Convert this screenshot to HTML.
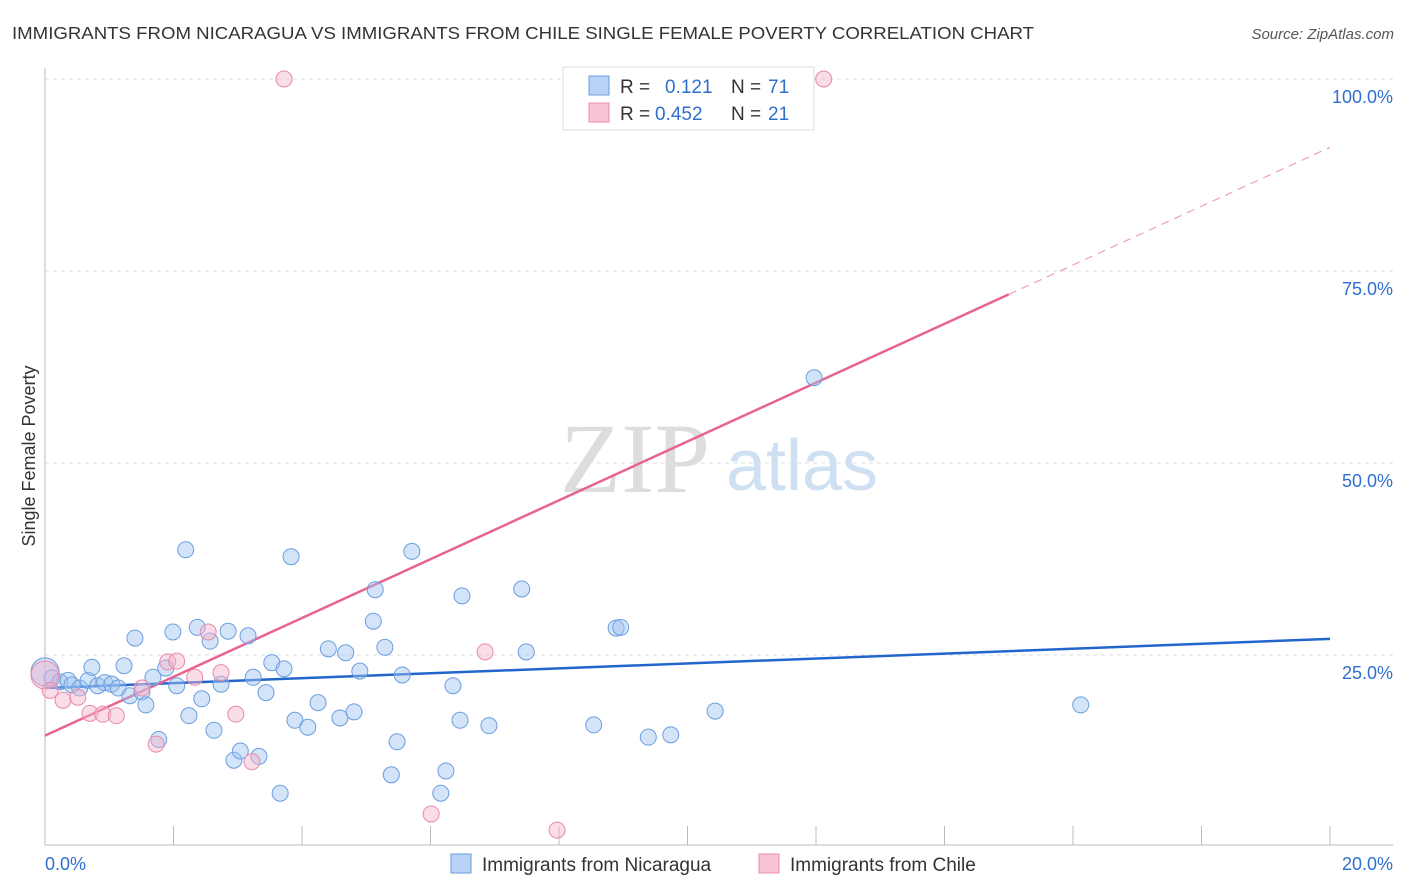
<!DOCTYPE html>
<html><head><meta charset="utf-8">
<style>
body{margin:0;background:#fff;font-family:"Liberation Sans",sans-serif;}
#wrap{position:relative;width:1406px;height:892px;overflow:hidden;}
</style></head>
<body>
<div id="wrap">
<svg id="chart" width="1406" height="892" xmlns="http://www.w3.org/2000/svg">
<text x="12" y="39" font-size="17.5" fill="#333" textLength="1022" lengthAdjust="spacingAndGlyphs">IMMIGRANTS FROM NICARAGUA VS IMMIGRANTS FROM CHILE SINGLE FEMALE POVERTY CORRELATION CHART</text>
<text x="1394" y="39" font-size="15" fill="#555" font-style="italic" text-anchor="end">Source: ZipAtlas.com</text>
<text x="35" y="456" font-size="18" fill="#333" text-anchor="middle" transform="rotate(-90 35 456)">Single Female Poverty</text>
<g>
<text x="635" y="492" font-size="100" fill="#ddd" font-family="Liberation Serif" text-anchor="middle">ZIP</text>
<text x="802" y="490" font-size="72" fill="#cfe0f3" text-anchor="middle">atlas</text>
</g>
<g id="grid"></g>
<g id="lines"></g>
<g id="pts"></g>
<g>
<rect x="563" y="67" width="251" height="63" fill="#fff" stroke="#ddd"/>
<rect x="589" y="76" width="20" height="19" fill="#b8d3f5" stroke="#6b9ee0"/>
<rect x="589" y="103" width="20" height="19" fill="#f8c5d5" stroke="#e88aa8"/>
<text x="620" y="93" font-size="19" fill="#333">R = </text><text x="665" y="93" font-size="19" fill="#2f6fd0">0.121</text>
<text x="731" y="93" font-size="19" fill="#333">N = </text><text x="768" y="93" font-size="19" fill="#2f6fd0">71</text>
<text x="620" y="120" font-size="19" fill="#333">R = </text><text x="655" y="120" font-size="19" fill="#2f6fd0">0.452</text>
<text x="731" y="120" font-size="19" fill="#333">N = </text><text x="768" y="120" font-size="19" fill="#2f6fd0">21</text>
</g>
<g>
<rect x="451" y="854" width="20" height="19" fill="#b8d3f5" stroke="#6b9ee0"/>
<text x="482" y="871" font-size="19" fill="#333">Immigrants from Nicaragua</text>
<rect x="759" y="854" width="20" height="19" fill="#f8c5d5" stroke="#e88aa8"/>
<text x="790" y="871" font-size="19" fill="#333">Immigrants from Chile</text>
</g>
</svg>
</div>
<script>
const xTicks=[0,20];
const yTicks=[25,50,75,100];
const blueX=[0,0.11,0.23,0.36,0.42,0.54,0.67,0.73,0.82,0.93,1.04,1.14,1.23,1.32,1.40,1.51,1.57,1.68,1.77,1.88,1.99,2.05,2.19,2.24,2.37,2.44,2.57,2.63,2.74,2.85,2.94,3.04,3.16,3.24,3.33,3.44,3.53,3.66,3.72,3.83,3.89,4.09,4.25,4.41,4.59,4.68,4.81,4.90,5.11,5.14,5.29,5.48,5.56,5.39,5.71,6.16,6.24,6.35,6.46,6.49,6.91,7.42,7.49,8.54,8.89,8.96,9.39,9.74,10.43,11.97,16.12];
const blueY=[22.8,22.0,21.5,21.7,21.1,20.7,21.7,23.4,21.0,21.4,21.2,20.7,23.6,19.7,27.2,20.2,18.5,22.1,14.0,23.3,28.0,21.0,38.7,17.1,28.6,19.3,26.8,15.2,21.2,28.1,11.3,12.5,27.5,22.1,11.8,20.1,24.0,7.0,23.2,37.8,16.5,15.6,18.8,25.8,16.8,25.3,17.6,22.9,29.4,33.5,26.0,13.7,22.4,9.4,38.5,7.0,9.9,21.0,16.5,32.7,15.8,33.6,25.4,15.9,28.5,28.6,14.3,14.6,17.7,61.1,18.5];
const pinkX=[0,0.08,0.28,0.51,0.70,0.90,1.11,1.51,1.73,1.91,2.05,2.33,2.54,2.74,2.97,3.22,3.72,6.01,6.85,7.97,12.12];
const pinkY=[22.4,20.4,19.1,19.5,17.4,17.3,17.1,20.7,13.4,24.1,24.2,22.1,28.0,22.7,17.3,11.1,100,4.3,25.4,2.2,100];
const blueTrend=[20.7,27.1];
const pinkTrend=[14.5,91.1];

const NS='http://www.w3.org/2000/svg';
const X0=45,X1=1330,Y0=847,YS=7.68;
const sx=v=>X0+(v-xTicks[0])/(xTicks[1]-xTicks[0])*(X1-X0);
const sy=v=>Y0-v*YS;
function mk(tag,attrs,parent){const e=document.createElementNS(NS,tag);for(const k in attrs)e.setAttribute(k,attrs[k]);parent.appendChild(e);return e;}
const grid=document.getElementById('grid');
yTicks.forEach(t=>{
  const l=mk('line',{x1:45,x2:1393,y1:sy(t),y2:sy(t),stroke:'#ddd','stroke-dasharray':'4,4'},grid);
  
  
  const tx=mk('text',{x:1393,y:sy(t)+24,'font-size':18,fill:'#2f6fd0','text-anchor':'end'},grid);
  tx.textContent=t.toFixed(1)+'%';
  
  
});
let a=mk('line',{x1:45,x2:45,y1:68,y2:845,stroke:'#bbb'},grid);


a=mk('line',{x1:45,x2:1393,y1:845,y2:845,stroke:'#bbb'},grid);


for(let i=0;i<=10;i++){
  const x=sx(i*2);
  const t=mk('line',{x1:x,x2:x,y1:826,y2:845,stroke:'#bbb'},grid);
  
  
}
xTicks.forEach((v,i)=>{
  const tx=mk('text',{x:i==0?45:1393,y:870,'font-size':18,fill:'#2f6fd0','text-anchor':i==0?'start':'end'},grid);
  tx.textContent=v.toFixed(1)+'%';
  
  
});
const lines=document.getElementById('lines');
const pts=document.getElementById('pts');
blueX.forEach((v,i)=>{
  const c=mk('circle',{cx:sx(v),cy:sy(blueY[i]),r:i==0?14:8,fill:'rgba(160,195,240,0.45)',stroke:'#6b9ee0','stroke-width':1},pts);
  
  
});
pinkX.forEach((v,i)=>{
  const c=mk('circle',{cx:sx(v),cy:sy(pinkY[i]),r:i==0?14:8,fill:'rgba(245,180,204,0.45)',stroke:'#e88aa8','stroke-width':1},pts);
  
  
});
let l=mk('line',{x1:sx(0),y1:sy(blueTrend[0]),x2:sx(20),y2:sy(blueTrend[1]),stroke:'#2266cc','stroke-width':2.5},lines);


const pm=v=>pinkTrend[0]+(pinkTrend[1]-pinkTrend[0])*v/20;
l=mk('line',{x1:sx(0),y1:sy(pm(0)),x2:sx(15),y2:sy(pm(15)),stroke:'#e8638f','stroke-width':2.5},lines);


l=mk('line',{x1:sx(15),y1:sy(pm(15)),x2:sx(20),y2:sy(pm(20)),stroke:'#f0a0b8','stroke-width':1.2,'stroke-dasharray':'8,6'},lines);


</script>
</body></html>
